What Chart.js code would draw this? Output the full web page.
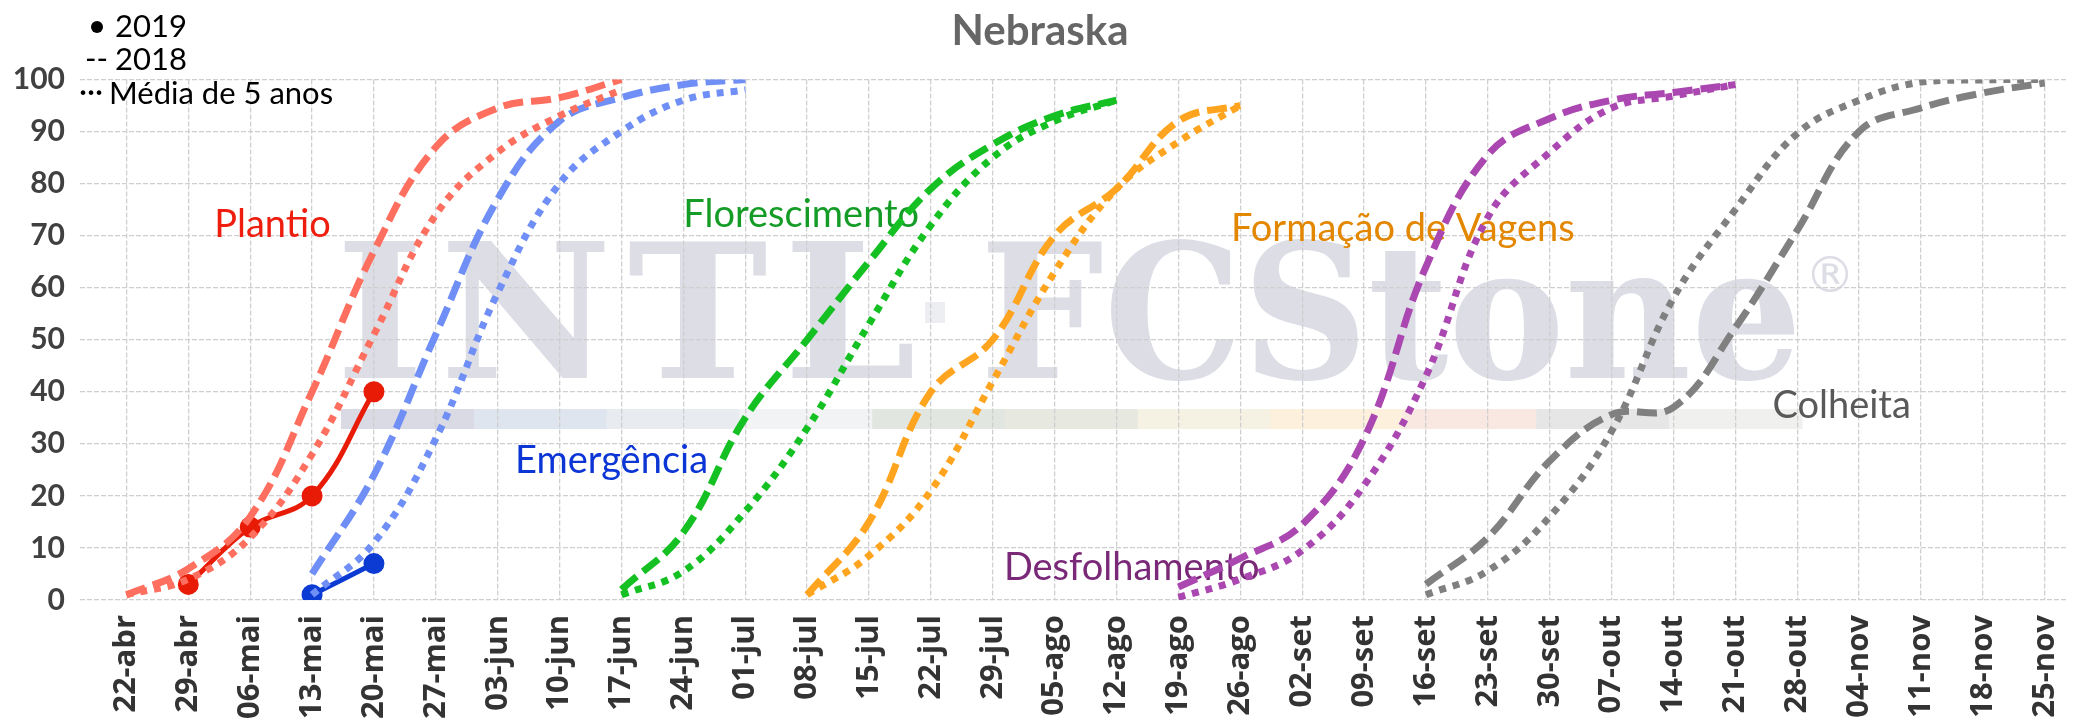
<!DOCTYPE html>
<html>
<head>
<meta charset="utf-8">
<title>Nebraska</title>
<script src="https://cdn.jsdelivr.net/npm/chart.js@4.4.1/dist/chart.umd.min.js"></script>
<style>
  html, body { margin: 0; padding: 0; background: #fff; overflow: hidden; }
  #wrap { width: 2080px; height: 720px; position: relative; }
  canvas { display: block; }
</style>
</head>
<body>
<div id="wrap"><canvas id="lineChart"></canvas></div>
<script>
// semanas (eixo x)
const weeks = ['22-abr', '29-abr', '06-mai', '13-mai', '20-mai', '27-mai', '03-jun', '10-jun',
  '17-jun', '24-jun', '01-jul', '08-jul', '15-jul', '22-jul', '29-jul', '05-ago', '12-ago',
  '19-ago', '26-ago', '02-set', '09-set', '16-set', '23-set', '30-set', '07-out', '14-out',
  '21-out', '28-out', '04-nov', '11-nov', '18-nov', '25-nov'];

// % concluído, valores semanais a partir da semana indicada em cada dataset
const plantio2019 = [3, 14, 20, 40];                                  // desde 29-abr
const plantio2018 = [1, 6, 16, 40, 67, 87, 94.5, 96.5, 100];          // desde 22-abr
const plantioMedia = [1, 4, 12, 28, 51, 74, 86, 93, 98];              // desde 22-abr

const emergencia2019 = [1, 7];                                        // desde 13-mai
const emergencia2018 = [5, 24, 51, 77, 92, 96.5, 99, 100];            // desde 13-mai
const emergenciaMedia = [1, 11, 31, 59, 80, 90, 96, 98];              // desde 13-mai

const florescimento2018 = [2, 13, 35, 50, 65, 79, 87.5, 93, 96];      // desde 17-jun
const florescimentoMedia = [1, 5.5, 17, 33, 53, 72, 85, 92, 96];      // desde 17-jun

const vagens2018 = [1, 15, 40, 50, 70, 79, 92, 95];                   // desde 08-jul
const vagensMedia = [1, 8.5, 21, 42, 63, 79, 88, 95];                 // desde 08-jul

const desfolha2018 = [2.5, 8, 14.5, 31, 64, 85.5, 92.5, 96, 97.5, 99];  // desde 19-ago
const desfolhaMedia = [0.5, 4, 9.5, 22, 43, 73.5, 86, 94.5, 96.8, 99];  // desde 19-ago

const colheita2018 = [3, 12, 26.7, 35.6, 37, 52.3, 71, 90, 94.5, 97.4, 99.3]; // desde 16-set
const colheitaMedia = [1, 5.6, 16, 32.4, 58, 75, 89.6, 96, 99.5, 99.9, 100];  // desde 16-set

function pts(from, values) {
    const s = weeks.indexOf(from);
    return values.map((v, i) => ({ x: s + i, y: v }));
}

function serie(label, from, values, color, kind) {
    const ds = {
        label: label,
        data: pts(from, values),
        borderColor: color,
        backgroundColor: color,
        tension: 0.4,
        fill: false,
        borderCapStyle: 'butt',
        pointRadius: 0,
        pointHoverRadius: 0
    };
    if (kind === 'solid') {
        ds.borderWidth = 5;
        ds.pointRadius = 8;
    } else if (kind === 'dash') {
        ds.borderWidth = 7;
        ds.borderDash = [20, 8];
    } else {
        ds.borderWidth = 7;
        ds.borderDash = [7, 7];
    }
    return ds;
}

const datasets = [
    serie('Plantio média', '22-abr', plantioMedia, '#ff6f5f', 'dot'),
    serie('Plantio 2018', '22-abr', plantio2018, '#ff6f5f', 'dash'),
    serie('Plantio 2019', '29-abr', plantio2019, '#e81b06', 'solid'),
    serie('Emergência média', '13-mai', emergenciaMedia, '#6f8ff6', 'dot'),
    serie('Emergência 2018', '13-mai', emergencia2018, '#6f8ff6', 'dash'),
    serie('Emergência 2019', '13-mai', emergencia2019, '#0b3bd2', 'solid'),
    serie('Florescimento média', '17-jun', florescimentoMedia, '#15c022', 'dot'),
    serie('Florescimento 2018', '17-jun', florescimento2018, '#15c022', 'dash'),
    serie('Vagens média', '08-jul', vagensMedia, '#ffa41f', 'dot'),
    serie('Vagens 2018', '08-jul', vagens2018, '#ffa41f', 'dash'),
    serie('Desfolhamento média', '19-ago', desfolhaMedia, '#aa47b0', 'dot'),
    serie('Desfolhamento 2018', '19-ago', desfolha2018, '#aa47b0', 'dash'),
    serie('Colheita média', '16-set', colheitaMedia, '#808080', 'dot'),
    serie('Colheita 2018', '16-set', colheita2018, '#808080', 'dash')
];

// rótulos das fases (posição em semanas / %)
const phaseLabels = [
    { text: 'Plantio', x: 1.42, y: 72, color: '#ee1d0e' },
    { text: 'Emergência', x: 6.28, y: 26.8, color: '#0b35d4' },
    { text: 'Florescimento', x: 9.0, y: 74, color: '#149c26' },
    { text: 'Formação de Vagens', x: 17.85, y: 71.4, color: '#e38600' },
    { text: 'Desfolhamento', x: 14.18, y: 6.1, color: '#7a2878' },
    { text: 'Colheita', x: 26.6, y: 37.4, color: '#595959' }
];

// faixa colorida do logotipo de fundo
const stripColors = ['#d9dae3', '#dfe5ee', '#e8ecf0', '#f1f3f4', '#e1e6e1', '#e7e9e1',
    '#f6f2e3', '#fdf1dd', '#f8e8e1', '#e6e6e6', '#f0f0ee'];

const watermark = {
    id: 'watermark',
    beforeDraw(chart) {
        const c = chart.ctx;
        c.save();
        stripColors.forEach((col, i) => {
            c.fillStyle = col;
            c.fillRect(341 + i * 132.8, 409, 133.5, 20);
        });
        c.fillStyle = '#dcdde5';
        c.textBaseline = 'alphabetic';
        c.textAlign = 'left';
        c.font = 'bold 188px "DejaVu Serif"';
        c.letterSpacing = '16px';
        c.fillText('INTL', 336, 378);
        c.letterSpacing = '0px';
        c.fillText('FCStone', 980, 378, 822);
        c.fillStyle = '#eceef1';
        c.fillRect(925, 302, 20, 21);
        c.fillStyle = '#dcdde5';
        c.font = '50px "DejaVu Sans"';
        c.fillText('®', 1805, 292);
        c.restore();
    }
};

const phaseText = {
    id: 'phaseText',
    beforeDatasetsDraw(chart) {
        const c = chart.ctx;
        const xs = chart.scales.x, ys = chart.scales.y;
        c.save();
        c.font = '38px Lato';
        c.textAlign = 'left';
        c.textBaseline = 'middle';
        phaseLabels.forEach(l => {
            c.fillStyle = l.color;
            c.fillText(l.text, xs.getPixelForValue(l.x), ys.getPixelForValue(l.y));
        });
        c.restore();
    }
};

const legendText = {
    id: 'legendText',
    afterDraw(chart) {
        const c = chart.ctx;
        c.save();
        c.fillStyle = '#000';
        c.font = '31px Lato';
        c.textBaseline = 'middle';
        c.textAlign = 'left';
        c.beginPath();
        c.arc(97, 27, 6, 0, Math.PI * 2);
        c.fill();
        c.fillText('2019', 115, 27);
        c.fillText('--', 85, 59);
        c.fillText('2018', 115, 60);
        c.fillText('···', 79, 92);
        c.fillText('Média de 5 anos', 109, 94);
        c.restore();
    }
};

const ctx = document.getElementById('lineChart').getContext('2d');

const chart = new Chart(ctx, {
    type: 'line',
    data: { datasets: datasets },
    options: {
        responsive: true,
        maintainAspectRatio: false,
        devicePixelRatio: 1,
        animation: false,
        layout: { padding: 0 },
        plugins: {
            legend: { display: false },
            tooltip: { enabled: false },
            title: {
                display: true,
                text: 'Nebraska',
                color: '#666666',
                font: { family: 'Lato', size: 42, weight: 'bold' },
                padding: { top: 6, bottom: 23 }
            }
        },
        scales: {
            x: {
                type: 'linear',
                min: -0.75,
                max: 31.36,
                afterBuildTicks: (scale) => {
                    scale.ticks = weeks.map((w, i) => ({ value: i }));
                },
                afterFit: (scale) => {
                    scale.height = 120;
                    scale.paddingLeft = 0;
                    scale.paddingRight = 0;
                },
                grid: { color: '#cfcfcf', lineWidth: 1.3, drawTicks: false },
                border: { display: false, dash: [5, 2] },
                ticks: {
                    autoSkip: false,
                    maxRotation: 90,
                    minRotation: 90,
                    padding: 15,
                    color: '#333333',
                    font: { family: 'Open Sans', size: 31, weight: 'bold' },
                    callback: (v) => weeks[v]
                }
            },
            y: {
                min: 0,
                max: 100,
                afterFit: (scale) => { scale.width = 80; },
                grid: { color: '#cfcfcf', lineWidth: 1.3, drawTicks: false },
                border: { display: false, dash: [5, 2] },
                ticks: {
                    stepSize: 10,
                    padding: 15,
                    color: '#404040',
                    font: { family: 'Lato', size: 30, weight: 'bold' }
                }
            }
        }
    },
    plugins: [watermark, phaseText, legendText]
});
</script>
</body>
</html>
